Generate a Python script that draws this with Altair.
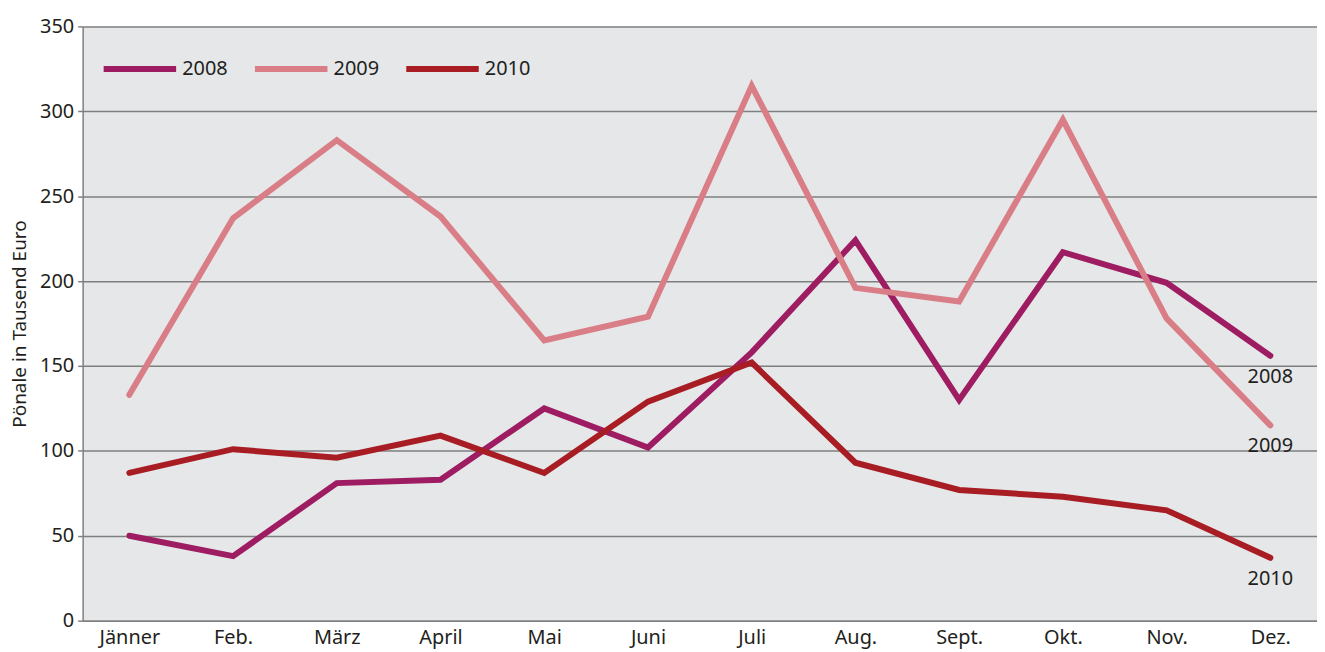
import altair as alt
import pandas as pd

months = ["Jänner", "Feb.", "März", "April", "Mai", "Juni", "Juli", "Aug.", "Sept.", "Okt.", "Nov.", "Dez."]
v2008 = [50, 38, 81, 83, 125, 102, 158, 224, 130, 217, 199, 156]
v2009 = [133, 237, 283, 238, 165, 179, 315, 196, 188, 295, 178, 115]
v2010 = [87, 101, 96, 109, 87, 129, 152, 93, 77, 73, 65, 37]
years = ["2008", "2009", "2010"]
colors = ["#9E1D62", "#D97E87", "#A81C24"]
y_ticks = [0, 50, 100, 150, 200, 250, 300, 350]

rows = []
for yr, vals in zip(years, [v2008, v2009, v2010]):
    for m, v in zip(months, vals):
        rows.append({"Monat": m, "Jahr": yr, "Wert": v})
df = pd.DataFrame(rows)

FONT = "Noto Sans"
TXT = "#231F20"

x_enc = alt.X(
    "Monat:N", sort=months,
    scale=alt.Scale(type="point", padding=0.45),
    axis=alt.Axis(title=None, labelAngle=0, ticks=False, grid=False,
                  domainColor="#808080", domainWidth=1.5,
                  labelFontSize=20, labelPadding=7, labelColor=TXT, labelFont=FONT),
)
y_enc = alt.Y(
    "Wert:Q",
    scale=alt.Scale(domain=[0, 350], nice=False),
    axis=alt.Axis(values=y_ticks, title="Pönale in Tausend Euro",
                  titleFontSize=19, titleFont=FONT, titleFontWeight="normal", titleColor=TXT,
                  titlePadding=10,
                  labelFontSize=20, labelFont=FONT, labelColor=TXT, labelPadding=4,
                  tickSize=5, tickColor="#808080", tickWidth=1.5,
                  domainColor="#808080", domainWidth=1.5,
                  grid=True, gridColor="#7F7F7F", gridWidth=1.5),
)

lines = alt.Chart(df).mark_line(strokeWidth=6, strokeCap="round", strokeJoin="miter").encode(
    x=x_enc, y=y_enc,
    color=alt.Color("Jahr:N", scale=alt.Scale(domain=years, range=colors),
                    legend=alt.Legend(title=None, orient="none", legendX=18, legendY=3,
                                      direction="horizontal", symbolType="stroke",
                                      symbolStrokeWidth=6, symbolSize=5300,
                                      labelFontSize=20, labelFont=FONT, labelColor=TXT,
                                      labelOffset=3, columnPadding=15)),
)

labels = alt.Chart(df).transform_filter(alt.datum.Monat == "Dez.").mark_text(
    dy=21, fontSize=20, font=FONT, color=TXT, align="center"
).encode(x=x_enc, y=y_enc, text="Jahr:N")

chart = (lines + labels).properties(
    width=1240, height=597,
    background="white",
    padding={"left": 2, "top": 7, "right": 0, "bottom": 0},
).configure_view(fill="#E6E7E9", stroke=None)

chart.save("out.html", embed_options={"renderer": "svg", "actions": False})
